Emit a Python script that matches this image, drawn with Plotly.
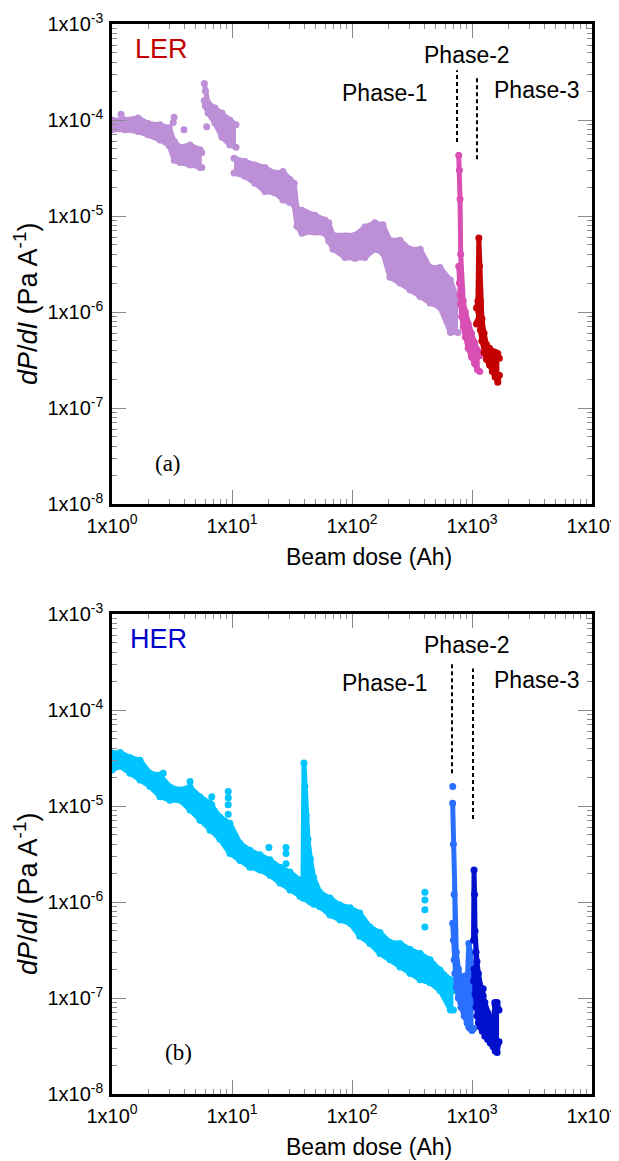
import numpy as np
import plotly.graph_objects as go

FONT = "Liberation Sans, Arial, sans-serif"
SERIF = "Liberation Serif, Times New Roman, serif"

# ---- LER (panel a) ----
LER_P1A_X = [1.0, 1.28, 1.65, 2.0, 2.51, 3.0, 3.3, 3.69, 4.47, 5.41, 5.6]
LER_P1A_HI = [1.0e-4, 1.0e-4, 1.05e-4, 9.2e-5, 8.9e-5, 8.3e-5, 6.0e-5, 5.2e-5, 5.5e-5, 4.9e-5, 4.6e-5]
LER_P1A_LO = [7.9e-5, 7.9e-5, 7.6e-5, 7.0e-5, 6.2e-5, 5.4e-5, 3.8e-5, 3.6e-5, 3.4e-5, 3.2e-5, 3.2e-5]

LER_P1B_X = [5.88, 6.0, 6.31, 7.2, 8.25, 9.6, 10.8]
LER_P1B_HI = [2.4e-4, 2.0e-4, 1.5e-4, 1.33e-4, 1.18e-4, 1.0e-4, 8.9e-5]
LER_P1B_LO = [1.6e-4, 1.4e-4, 1.18e-4, 9.3e-5, 6.6e-5, 5.5e-5, 5.2e-5]

LER_P1C_X = [10.4, 12.8, 15.5, 18.8, 22.8, 26.6, 30.4, 33.0, 34.8, 38.3,
             40.6, 49, 59.4, 64, 69.6, 87.6, 106, 128, 155, 181,
             207, 251, 305, 370, 447, 541, 661, 765]
LER_P1C_HI = [4.0e-5, 3.7e-5, 3.4e-5, 3.2e-5, 2.8e-5, 2.9e-5, 2.4e-5, 2.2e-5, 1.2e-5, 1.15e-5,
              1.1e-5, 1.02e-5, 9.1e-6, 8.5e-6, 6.3e-6, 6.2e-6, 6.3e-6, 7.7e-6, 8.5e-6, 8.1e-6,
              5.6e-6, 5.6e-6, 4.5e-6, 4.5e-6, 2.9e-6, 2.9e-6, 2.15e-6, 1.33e-6]
LER_P1C_LO = [2.8e-5, 2.6e-5, 2.2e-5, 1.8e-5, 1.74e-5, 1.47e-5, 1.38e-5, 1.3e-5, 7.8e-6, 6.6e-6,
              6.8e-6, 6.8e-6, 6.6e-6, 5.5e-6, 4.5e-6, 3.7e-6, 3.6e-6, 3.7e-6, 4.5e-6, 4.1e-6,
              2.3e-6, 2.0e-6, 1.7e-6, 1.45e-6, 1.24e-6, 1.12e-6, 6.1e-7, 6.1e-7]

LER_P1_DOT_X = [1.19, 3.29, 3.24, 3.98, 6.15]
LER_P1_DOT_Y = [1.15e-4, 1.07e-4, 9.4e-5, 7.9e-5, 8.5e-5]

LER_P2_X = [775, 785, 795, 805, 820, 845, 880, 930, 990, 1050, 1110, 1160]
LER_P2_HI = [4.3e-5, 3.0e-5, 1.5e-5, 4e-6, 1.8e-6, 1.3e-6, 1.0e-6, 7.5e-7, 6e-7, 4.8e-7, 4.0e-7, 3.5e-7]
LER_P2_LO = [3e-6, 2e-6, 1.5e-6, 1.2e-6, 9e-7, 7e-7, 5.5e-7, 4.2e-7, 3.4e-7, 2.9e-7, 2.5e-7, 2.4e-7]

LER_P3_X = [1090, 1120, 1140, 1155, 1175, 1210, 1260, 1320, 1400, 1480, 1560, 1640, 1690]
LER_P3_HI = [1.1e-6, 1.3e-6, 5.9e-6, 3.0e-6, 1.3e-6, 8.5e-7, 6e-7, 4.6e-7, 4.2e-7, 3.9e-7, 3.8e-7, 3.7e-7, 3.3e-7]
LER_P3_LO = [7.5e-7, 8e-7, 1.0e-6, 9e-7, 6.5e-7, 5e-7, 3.8e-7, 3.2e-7, 2.8e-7, 2.4e-7, 2.1e-7, 1.85e-7, 2.2e-7]

LER_BOUND_X = [750, 1100]
LER_BOUND_TOP = [3.3e-4, 2.9e-4]
LER_BOUND_BOT = [5.9e-5, 3.9e-5]

# ---- HER (panel b) ----
HER_P1_X = [1.0, 1.17, 1.41, 1.71, 2.07, 2.51, 3.04, 3.69, 4.47, 5.41,
            6.56, 7.94, 9.6, 11.66, 14.1, 17.1, 20.7, 25.1, 30.4, 36.8,
            39.0, 39.8, 40.5, 41.5, 43.0, 45.0, 48.0, 54, 65.6, 79.4,
            96.2, 116, 141, 171, 207, 251, 305, 370, 447, 541,
            661, 700]
HER_P1_HI = [3.56e-5, 3.6e-5, 3.2e-5, 3.0e-5, 2.2e-5, 2.1e-5, 1.58e-5, 1.47e-5, 1.58e-5, 1.25e-5,
             1.07e-5, 7.7e-6, 6.6e-6, 4.1e-6, 3.45e-6, 3.1e-6, 2.75e-6, 2.3e-6, 2.05e-6, 1.7e-6,
             1.6e-6, 2.8e-5, 1.6e-5, 8e-6, 4.5e-6, 2.8e-6, 1.8e-6, 1.26e-6, 1.1e-6, 9.3e-7,
             8.7e-7, 7.7e-7, 5.5e-7, 4.8e-7, 3.8e-7, 3.7e-7, 3.2e-7, 2.9e-7, 2.5e-7, 1.96e-7,
             1.55e-7, 1.2e-7]
HER_P1_LO = [2.37e-5, 2.6e-5, 2.2e-5, 1.87e-5, 1.6e-5, 1.25e-5, 1.15e-5, 1.15e-5, 9.1e-6, 7.1e-6,
             5.6e-6, 4.5e-6, 3.2e-6, 2.7e-6, 2.3e-6, 2.15e-6, 1.9e-6, 1.58e-6, 1.33e-6, 1.15e-6,
             1.1e-6, 1.1e-6, 1.1e-6, 1.1e-6, 1.05e-6, 1.0e-6, 9.5e-7, 8.9e-7, 7.3e-7, 6.5e-7,
             6.0e-7, 4.4e-7, 3.7e-7, 2.9e-7, 2.5e-7, 2.1e-7, 1.8e-7, 1.55e-7, 1.44e-7, 1.2e-7,
             7.5e-8, 7.5e-8]

HER_P1_DOT_X = [2.67, 4.47, 6.78, 6.78, 9.3, 9.3, 9.3, 9.3, 20.3, 28.2, 28.2, 28.2, 405, 405, 405, 405]
HER_P1_DOT_Y = [2.2e-5, 1.8e-5, 1.25e-5, 1.03e-5, 1.42e-5, 1.22e-5, 1.03e-5, 8.2e-6, 3.7e-6, 3.7e-6, 3.2e-6, 2.5e-6,
                1.26e-6, 1.05e-6, 8.3e-7, 5.5e-7]

HER_P2_X = [690, 700, 710, 720, 740, 770, 810, 860, 910, 940, 970, 1000, 1030]
HER_P2_HI = [1.07e-5, 4e-6, 1.2e-6, 5e-7, 3e-7, 2e-7, 1.6e-7, 1.4e-7, 1.3e-7, 3.7e-7, 3.0e-7, 1.4e-7, 9e-8]
HER_P2_LO = [6e-7, 4e-7, 2.5e-7, 1.8e-7, 1.3e-7, 1.0e-7, 8e-8, 6.5e-8, 5.5e-8, 5e-8, 4.8e-8, 4.6e-8, 4.8e-8]
HER_P2_DOT_X = [691, 870]
HER_P2_DOT_Y = [1.6e-5, 1.7e-7]

HER_P3_X = [1030, 1040, 1050, 1060, 1080, 1100, 1130, 1170, 1220, 1280, 1350, 1420, 1500, 1560, 1620, 1680]
HER_P3_HI = [4e-7, 2.15e-6, 1.2e-6, 5e-7, 3e-7, 2.4e-7, 1.8e-7, 1.3e-7, 1.1e-7, 9e-8, 7e-8, 6e-8, 6e-8, 8.5e-8, 9e-8, 7.5e-8]
HER_P3_LO = [1.5e-7, 2e-7, 1.5e-7, 1.1e-7, 8e-8, 6.5e-8, 5.5e-8, 5e-8, 4.5e-8, 4e-8, 3.7e-8, 3.4e-8, 3.1e-8, 2.8e-8, 2.7e-8, 3.5e-8]
HER_P3_DOT_X = [1240, 1240, 1550]
HER_P3_DOT_Y = [1.25e-7, 1.05e-7, 9e-8]

HER_BOUND_X = [681, 1019]
HER_BOUND_TOP = [3.1e-4, 2.7e-4]
HER_BOUND_BOT = [2.2e-5, 7.3e-6]

Y_TICKS = [1e-8, 1e-7, 1e-6, 1e-5, 1e-4, 1e-3]
Y_TICKTEXT = ["1x10<sup>-8</sup>", "1x10<sup>-7</sup>", "1x10<sup>-6</sup>",
              "1x10<sup>-5</sup>", "1x10<sup>-4</sup>", "1x10<sup>-3</sup>"]
X_TICKS = [1, 10, 100, 1000, 10000]
X_TICKTEXT = ["1x10<sup>0</sup>", "1x10<sup>1</sup>", "1x10<sup>2</sup>",
              "1x10<sup>3</sup>", "1x10<sup>4</sup>"]

C_LER1 = "#bc8fd7"
C_LER2 = "#d94fb4"
C_LER3 = "#c40000"
C_HER1 = "#00c4ff"
C_HER2 = "#2a70ff"
C_HER3 = "#0010cc"

# page body has an 8px margin; figure coordinates below are page pixels minus 8
W = 611
H = 1153
PLOT_L, PLOT_R = 104, 584
PANELS = {"a": (16, 496), "b": (606, 1086)}

fig = go.Figure()


def band(x, hi, lo, color, xa, ya, width=5):
    for yy, fill in ((lo, None), (hi, "tonexty")):
        fig.add_trace(go.Scatter(x=x, y=yy, mode="lines+markers",
                                 line=dict(color=color, width=width),
                                 marker=dict(color=color, size=7),
                                 fill=fill, fillcolor=color if fill else None,
                                 xaxis=xa, yaxis=ya, showlegend=False, hoverinfo="skip"))


def dots(x, y, color, xa, ya):
    fig.add_trace(go.Scatter(x=x, y=y, mode="markers", marker=dict(color=color, size=7),
                             xaxis=xa, yaxis=ya, showlegend=False, hoverinfo="skip"))


def bounds(xs, tops, bots, xa, ya):
    for x, t, b in zip(xs, tops, bots):
        fig.add_trace(go.Scatter(x=[x, x], y=[b, t], mode="lines",
                                 line=dict(color="black", width=2, dash="4px,3px"),
                                 xaxis=xa, yaxis=ya, showlegend=False, hoverinfo="skip"))


# panel a
band(LER_P1A_X, LER_P1A_HI, LER_P1A_LO, C_LER1, "x", "y")
band(LER_P1B_X, LER_P1B_HI, LER_P1B_LO, C_LER1, "x", "y")
band(LER_P1C_X, LER_P1C_HI, LER_P1C_LO, C_LER1, "x", "y")
dots(LER_P1_DOT_X, LER_P1_DOT_Y, C_LER1, "x", "y")
band(LER_P2_X, LER_P2_HI, LER_P2_LO, C_LER2, "x", "y")
band(LER_P3_X, LER_P3_HI, LER_P3_LO, C_LER3, "x", "y")
bounds(LER_BOUND_X, LER_BOUND_TOP, LER_BOUND_BOT, "x", "y")

# panel b
band(HER_P1_X, HER_P1_HI, HER_P1_LO, C_HER1, "x2", "y2")
dots(HER_P1_DOT_X, HER_P1_DOT_Y, C_HER1, "x2", "y2")
band(HER_P2_X, HER_P2_HI, HER_P2_LO, C_HER2, "x2", "y2")
dots(HER_P2_DOT_X, HER_P2_DOT_Y, C_HER2, "x2", "y2")
band(HER_P3_X, HER_P3_HI, HER_P3_LO, C_HER3, "x2", "y2")
dots(HER_P3_DOT_X, HER_P3_DOT_Y, C_HER3, "x2", "y2")
bounds(HER_BOUND_X, HER_BOUND_TOP, HER_BOUND_BOT, "x2", "y2")

minor_y = [m * 10.0 ** e for e in range(-8, -3) for m in range(2, 10)]
minor_x = [m * 10.0 ** e for e in range(0, 4) for m in range(2, 10)]

tick_font = dict(family=FONT, size=20, color="black")
TICK_GRAY = "#8a8a8a"


def common_axis(vals, text, minor_vals):
    return dict(
        type="log", tickmode="array", tickvals=vals, ticktext=text,
        ticks="inside", ticklen=14, tickwidth=1, tickcolor=TICK_GRAY,
        minor=dict(tickmode="array", tickvals=minor_vals, ticks="inside", ticklen=5,
                   tickwidth=1, tickcolor=TICK_GRAY, showgrid=False),
        showline=True, linecolor="black", linewidth=2.5, mirror="ticks",
        showgrid=False, zeroline=False, tickfont=tick_font, ticklabelstandoff=2,
        automargin=False,
    )


def xaxis_cfg(anchor):
    cfg = common_axis(X_TICKS, X_TICKTEXT, minor_x)
    cfg.update(range=[0, 4], domain=[PLOT_L / W, PLOT_R / W], anchor=anchor)
    return cfg


def yaxis_cfg(anchor, panel):
    top, bot = PANELS[panel]
    cfg = common_axis(Y_TICKS, Y_TICKTEXT, minor_y)
    cfg.update(range=[-8, -3], domain=[1 - bot / H, 1 - top / H], anchor=anchor)
    return cfg


def label(text, xd, yd, xa, ya, size, color="black", family=FONT, xanchor="center"):
    fig.add_annotation(text=text, x=xd, y=yd, xref=f"{xa} domain", yref=f"{ya} domain",
                       showarrow=False, xanchor=xanchor, yanchor="middle",
                       font=dict(family=family, size=size, color=color))


def paper_text(text, px, py, size, angle=0):
    fig.add_annotation(text=text, x=px / W, y=1 - py / H, xref="paper", yref="paper",
                       showarrow=False, xanchor="center", yanchor="middle", textangle=angle,
                       font=dict(family=FONT, size=size, color="black"))


for xa, ya, name, color, nx in [("x", "y", "LER", C_LER3, 0.044),
                                ("x2", "y2", "HER", "#0000cc", 0.034)]:
    label(name, nx, 0.947, xa, ya, 27, color=color, xanchor="left")
    label("Phase-1", 0.569, 0.856, xa, ya, 23)
    label("Phase-2", 0.740, 0.935, xa, ya, 23)
    label("Phase-3", 0.885, 0.8625, xa, ya, 23)

label("(a)", 0.117, 0.085, "x", "y", 23, family=SERIF)
label("(b)", 0.1375, 0.0875, "x2", "y2", 23, family=SERIF)

Y_TITLE = "<i>dP</i>/<i>dI</i> (Pa A<sup>-1</sup>)"
X_TITLE = "Beam dose (Ah)"
for top, bot in PANELS.values():
    paper_text(Y_TITLE, 18, (top + bot) / 2 + 40, 27, angle=-90)
    paper_text(X_TITLE, 361, bot + 53, 23)

fig.update_layout(
    width=W, height=H,
    margin=dict(l=0, r=0, t=0, b=0),
    paper_bgcolor="white", plot_bgcolor="white",
    showlegend=False,
    xaxis=xaxis_cfg("y"), yaxis=yaxis_cfg("x", "a"),
    xaxis2=xaxis_cfg("y2"), yaxis2=yaxis_cfg("x2", "b"),
)

fig.write_html("out.html")
